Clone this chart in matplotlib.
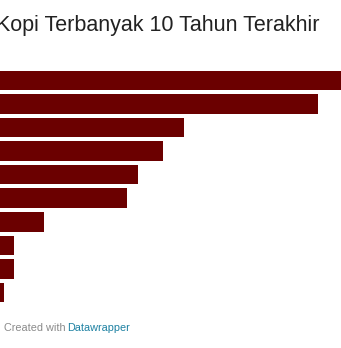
import matplotlib.pyplot as plt
import numpy as np

plt.rcParams['font.family'] = ['Liberation Sans', 'DejaVu Sans']

# data (bar lengths, same units as pixels)
kategori = ["1", "2", "3", "4", "5", "6", "7", "8", "9", "10"]
nilai = [350, 318, 184, 163, 138, 127, 44, 14, 14, 4]

judul = "Kopi Terbanyak 10 Tahun Terakhir"
W, H = 341, 348

fig = plt.figure(figsize=(W / 100, H / 100), dpi=100)
fig.patch.set_facecolor("white")

ax = fig.add_axes([0, 0.1256, 1, 0.677])
y = np.arange(len(kategori))
ax.barh(y, nilai, height=0.83, color="#6b0000", edgecolor="none")
ax.set_xlim(0, W)
ax.set_ylim(len(kategori) - 0.5, -0.5)
ax.axis("off")

# title, left part cut off as in the screenshot
fig.text(-4 / W, 1 - 31 / H, judul, fontsize=15.5, color="#222222",
         ha="left", va="baseline")

# footer
fig.text(4 / W, 1 - 328 / H, "Created with", fontsize=7.8,
         color="#8a8a8a", ha="left", va="center")
fig.text(67.5 / W, 1 - 328 / H, "Datawrapper", fontsize=7.8,
         color="#1d81a2", ha="left", va="center")

fig.savefig("out.png", dpi=100, facecolor="white")
